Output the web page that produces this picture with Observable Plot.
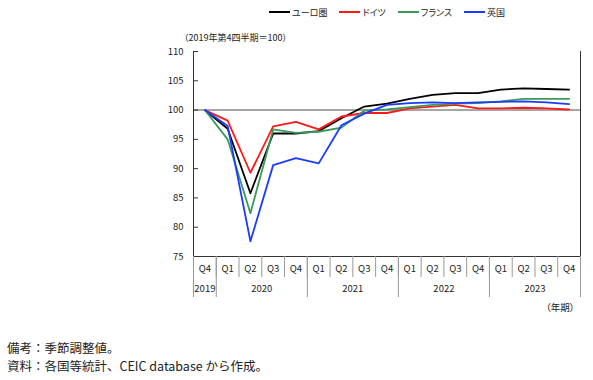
<!DOCTYPE html>
<html><head><meta charset="utf-8">
<script src="https://cdn.jsdelivr.net/npm/d3@7"></script>
<script src="https://cdn.jsdelivr.net/npm/@observablehq/plot@0.6"></script>
<style>
body{margin:0;background:#fff;font-family:"Noto Sans CJK JP","Noto Sans",sans-serif;}
#wrap{position:relative;width:593px;height:380px;overflow:hidden;}
#chart{position:absolute;left:0;top:0;}
#legend{position:absolute;left:269px;top:4px;display:flex;gap:12px;font-size:9px;font-feature-settings:"palt";color:#222;align-items:center;height:16px;}
.item{display:flex;align-items:center;gap:2px;}
.sw{display:inline-block;width:21px;height:2px;}
#sub{position:absolute;left:184px;top:31px;font-size:9px;font-feature-settings:"palt";color:#222;}
#unit{position:absolute;left:546px;top:300px;font-size:9.5px;font-feature-settings:"palt";color:#222;}
#cap{position:absolute;left:7px;top:339px;font-size:12.5px;line-height:18px;color:#222;}
</style></head>
<body>
<div id="wrap">
<div id="chart"></div>
<div id="legend"></div>
<div id="sub">（2019年第4四半期＝100）</div>
<div id="unit">（年期）</div>
<div id="cap">備考：季節調整値。<br>資料：各国等統計、CEIC database から作成。</div>
</div>
<script>
const periods = ["2019Q4","2020Q1","2020Q2","2020Q3","2020Q4","2021Q1","2021Q2","2021Q3","2021Q4","2022Q1","2022Q2","2022Q3","2022Q4","2023Q1","2023Q2","2023Q3","2023Q4"];
const seriesNames = ["ユーロ圏","ドイツ","フランス","英国"];
const seriesColors = ["#000000","#ff1a1a","#3a9a5e","#1a3cff"];
const euro    = [100, 96.8, 85.8, 96.0, 96.0, 96.4, 98.6, 100.6, 101.1, 101.9, 102.6, 102.9, 102.9, 103.5, 103.7, 103.6, 103.5];
const germany = [100, 98.2, 89.3, 97.2, 98.0, 96.7, 98.9, 99.5, 99.5, 100.3, 100.6, 100.9, 100.3, 100.3, 100.4, 100.3, 100.1];
const france  = [100, 95.0, 82.4, 96.7, 96.1, 96.3, 97.0, 99.9, 100.1, 100.5, 100.9, 101.1, 101.2, 101.5, 101.9, 101.9, 101.9];
const uk      = [100, 97.3, 77.6, 90.6, 91.8, 90.9, 97.4, 99.4, 100.9, 101.2, 101.3, 101.2, 101.3, 101.4, 101.5, 101.3, 101.0];
const yTicks = [75, 80, 85, 90, 95, 100, 105, 110];

const valuesBySeries = [euro, germany, france, uk];
const rows = [];
seriesNames.forEach((s, k) => periods.forEach((p, i) => rows.push({series: s, pos: i + 0.5, value: valuesBySeries[k][i]})));

const qLabel = p => p.slice(4);
const yearOf = p => p.slice(0, 4);
const n = periods.length;
const qCenters = periods.map((p, i) => i + 0.5);
const bounds = d3.range(0, n + 1);
const years = Array.from(new Set(periods.map(yearOf)));
const yearStart = years.map(y => periods.findIndex(p => yearOf(p) === y));
const yearBounds = [...yearStart, n];
const yearCenters = years.map((y, k) => (yearBounds[k] + yearBounds[k + 1]) / 2);

const font = '"Noto Sans CJK JP","Noto Sans",sans-serif';
const chart = Plot.plot({
  width: 593, height: 320,
  marginLeft: 193, marginRight: 13, marginTop: 51, marginBottom: 64,
  style: {fontFamily: font, fontSize: "9.5px", color: "#222", background: "transparent"},
  x: {domain: [0, n], axis: null},
  y: {domain: [75, 110], axis: null},
  color: {domain: seriesNames, range: seriesColors},
  marks: [
    Plot.ruleY([100], {stroke: "#a6a6a6", strokeWidth: 2}),
    Plot.line(rows, {x: "pos", y: "value", z: "series", stroke: "series", strokeWidth: 1.8}),
    Plot.ruleX([0, n], {stroke: "#333", strokeWidth: 1}),
    Plot.ruleY([75], {stroke: "#333", strokeWidth: 1}),
    Plot.axisY(yTicks, {label: null, tickSize: 0, tickPadding: 10, fontSize: 9.5, fill: "#222"}),
    Plot.axisY(yTicks, {label: null, tickSize: -5, tickFormat: () => "", stroke: "#333"}),
    Plot.axisX(bounds, {label: null, tickSize: 21, tickFormat: () => "", stroke: "#999"}),
    Plot.axisX(yearBounds, {label: null, tickSize: 41, tickFormat: () => "", stroke: "#999"}),
    Plot.axisX(qCenters, {label: null, tickSize: 0, tickPadding: 9, tickFormat: d => qLabel(periods[Math.floor(d)]), fontSize: 9.5, fill: "#222"}),
    Plot.axisX(yearCenters, {label: null, tickSize: 0, tickPadding: 29, tickFormat: (d, k) => years[k], fontSize: 9.5, fill: "#222"})
  ]
});
document.getElementById("chart").appendChild(chart);

const legend = document.getElementById("legend");
seriesNames.forEach((s, k) => {
  const it = document.createElement("div"); it.className = "item";
  const sw = document.createElement("span"); sw.className = "sw"; sw.style.background = seriesColors[k];
  const tx = document.createElement("span"); tx.textContent = s;
  it.appendChild(sw); it.appendChild(tx); legend.appendChild(it);
});
</script>
</body></html>
